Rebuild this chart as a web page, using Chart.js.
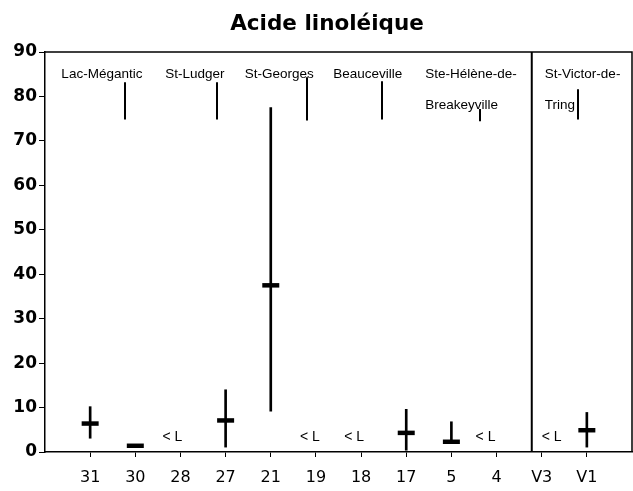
<!DOCTYPE html>
<html><head><meta charset="utf-8">
<script src="https://cdn.jsdelivr.net/npm/chart.js@4/dist/chart.umd.min.js"></script>
<style>html,body{margin:0;padding:0;background:#fff}#wrap{width:633px;height:491px}</style>
</head><body><div id="wrap"><canvas id="c" width="633" height="491"></canvas></div>
<script>
const categories = ['31','30','28','27','21','19','18','17','5','4','V3','V1'];
const minValues  = [3.1, 1.2, null, 1.1, 9.2, null, null, 0.4, 2.2, null, null, 1.1];
const maxValues  = [10.2, 1.6, null, 14.0, 77.5, null, null, 9.6, 6.8, null, null, 8.9];
const meanValues = [6.4, 1.4, null, 7.1, 37.5, null, null, 4.3, 2.3, null, null, 4.9];
const belowLimit = [false, false, true, false, false, true, true, false, false, true, true, false];
const locations = ['Lac-Mégantic', 'St-Ludger', 'St-Georges', 'Beauceville', 'Ste-Hélène-de-|Breakeyville', 'St-Victor-de-|Tring'];
const yTicks = [0,10,20,30,40,50,60,70,80,90];

// layout of annotations (x in axis units, y in value units)
const locLayout = [
  {tx:1.26, align:'center', ty:85.0, lx:1.77, l1:83.2, l2:74.8},
  {tx:3.32, align:'center', ty:85.0, lx:3.81, l1:83.2, l2:74.8},
  {tx:5.19, align:'center', ty:85.0, lx:5.80, l1:84.3, l2:74.6},
  {tx:7.15, align:'center', ty:85.0, lx:7.46, l1:83.4, l2:74.8},
  {tx:8.42, align:'left',   ty:85.0, lx:9.63, l1:77.2, l2:74.4},
  {tx:11.07,align:'left',   ty:85.0, lx:11.8, l1:81.6, l2:74.8}
];
const ltOffsets = {2:-8, 5:-6, 6:-7, 9:-11, 10:10};

const rangeData = categories.map((c,i)=> minValues[i]==null ? null : {x:i+1, y:[minValues[i], maxValues[i]]}).filter(d=>d);
const meanData = categories.map((c,i)=> meanValues[i]==null ? null : {x:i+1, y:meanValues[i]}).filter(d=>d);

const annot = {
  id:'annot',
  afterDraw(chart){
    const ctx = chart.ctx, xs = chart.scales.x, ys = chart.scales.y, a = chart.chartArea;
    ctx.save();
    ctx.strokeStyle = '#000'; ctx.lineWidth = 1.5;
    ctx.beginPath();
    ctx.moveTo(a.left, a.top); ctx.lineTo(a.right, a.top); ctx.lineTo(a.right, a.bottom);
    ctx.stroke();
    ctx.lineWidth = 2;
    const sx = xs.getPixelForValue(10.78);
    ctx.beginPath(); ctx.moveTo(sx, a.top); ctx.lineTo(sx, a.bottom); ctx.stroke();
    ctx.fillStyle = '#000';
    ctx.font = '13.5px "Liberation Sans", Arial, sans-serif';
    ctx.textBaseline = 'middle';
    locations.forEach((name,i)=>{
      const L = locLayout[i];
      const lines = name.split('|');
      ctx.textAlign = L.align;
      lines.forEach((t,k)=>{
        ctx.fillText(t, xs.getPixelForValue(L.tx), ys.getPixelForValue(L.ty) + k*31);
      });
      ctx.lineWidth = 2;
      const lx = Math.round(xs.getPixelForValue(L.lx));
      ctx.beginPath(); ctx.moveTo(lx, ys.getPixelForValue(L.l1)); ctx.lineTo(lx, ys.getPixelForValue(L.l2)); ctx.stroke();
    });
    ctx.font = '14px "Liberation Sans", Arial, sans-serif';
    ctx.textAlign = 'center';
    belowLimit.forEach((b,i)=>{
      if(!b) return;
      ctx.fillText('< L', xs.getPixelForValue(i+1) + (ltOffsets[i]||0), ys.getPixelForValue(3.3));
    });
    ctx.font = 'bold 21.5px "DejaVu Sans", "Liberation Sans", Arial, sans-serif';
    ctx.textAlign = 'center';
    ctx.fillText('Acide linoléique', 327, 24);
    ctx.restore();
  }
};

new Chart(document.getElementById('c'), {
  type: 'bar',
  data: {
    datasets: [
      {type:'bar', data: rangeData, backgroundColor:'#000', borderWidth:0, barThickness:2, grouped:false, order:2},
      {type:'scatter', data: meanData, pointStyle:'line', radius:8.5, hoverRadius:8.5, borderColor:'#000', borderWidth:4.5, pointBorderWidth:4.5, showLine:false, order:1}
    ]
  },
  options: {
    responsive:false, animation:false,
    layout:{autoPadding:false, padding:{top:52, right:1, left:0, bottom:0}},
    plugins:{legend:{display:false}, tooltip:{enabled:false}, title:{display:false}},
    scales:{
      x:{
        type:'linear', min:0, max:13, offset:false,
        afterBuildTicks(s){ s.ticks = categories.map((c,i)=>({value:i+1})); },
        afterFit(s){ s.height = 39; },
        ticks:{ autoSkip:false, maxRotation:0, color:'#000', padding:11,
          font:{family:'"DejaVu Sans", "Liberation Sans", Arial, sans-serif', size:16},
          callback:(v)=> categories[v-1] ?? '' },
        grid:{display:true, offset:false, drawOnChartArea:false, drawTicks:true, tickLength:5, color:'#000', lineWidth:1},
        border:{display:true, color:'#000', width:1.5}
      },
      y:{
        min:0, max:90,
        afterBuildTicks(s){ s.ticks = yTicks.map(v=>({value:v})); },
        afterFit(s){ s.width = 45; },
        ticks:{ color:'#000', padding:2,
          font:{family:'"DejaVu Sans", "Liberation Sans", Arial, sans-serif', size:17, weight:'bold'} },
        grid:{display:true, drawOnChartArea:false, drawTicks:true, tickLength:6, color:'#000', lineWidth:1},
        border:{display:true, color:'#000', width:1.5}
      }
    }
  },
  plugins:[annot]
});
</script></body></html>
